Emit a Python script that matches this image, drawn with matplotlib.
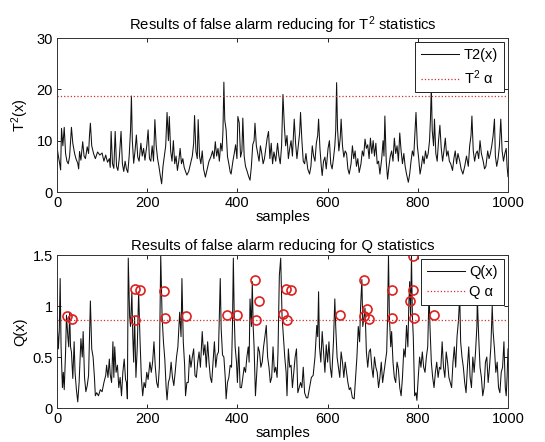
import matplotlib
matplotlib.use("Agg")
import matplotlib.pyplot as plt
from matplotlib.ticker import FuncFormatter

plt.rcParams['font.family'] = ['Liberation Sans', 'DejaVu Sans']
plt.rcParams['mathtext.fontset'] = 'custom'
plt.rcParams['mathtext.rm'] = 'Liberation Sans'
plt.rcParams['mathtext.it'] = 'Liberation Sans'

# ---------------- data ----------------
t2_x = [0,3,6,8,10,13,16,19,22,25,28,32,35,39,42,46,48,50,53,57,60,63,67,70,72,74,77,81,85,90,95,100,104,108,112,116,118,120,123,126,129,132,135,138,142,145,148,151,154,157,160,163,165,167,170,173,176,179,182,186,189,192,195,199,202,205,208,211,214,217,220,223,226,229,232,235,238,241,244,247,249,252,255,258,261,264,267,270,273,276,279,282,285,288,292,296,300,303,305,308,311,313,316,319,322,325,329,333,337,341,345,348,351,354,357,360,363,366,368,370,372,375,378,381,384,386,390,393,396,399,401,404,407,410,412,415,418,421,425,428,431,434,437,439,442,445,448,451,454,457,460,463,466,469,472,475,478,481,485,489,492,495,498,501,504,507,510,513,516,519,522,526,529,532,535,538,540,543,546,549,552,556,560,563,566,569,572,575,578,580,583,586,588,591,594,597,601,604,607,610,613,616,618,620,622,625,628,630,633,636,639,642,645,648,652,655,658,661,664,667,670,674,677,680,683,686,689,692,695,698,701,704,707,710,713,716,720,723,725,727,730,733,736,739,742,745,748,751,754,757,760,763,766,769,772,775,779,782,785,788,791,794,796,799,802,805,808,811,814,817,820,823,826,828,830,832,835,837,840,843,846,849,852,855,858,861,864,867,870,873,877,880,883,886,889,893,896,900,904,908,912,915,918,920,923,926,929,932,935,938,941,945,948,951,955,958,961,964,967,970,972,975,978,981,984,987,990,993,996,998,1000]
t2_y = [8.8,7.0,5.5,4.3,12.4,9.0,12.6,7.5,6.0,5.5,7.0,12.6,9.5,7.5,6.5,5.6,4.5,7.9,6.2,9.8,7.0,6.5,8.8,7.5,11.0,13.4,9.0,7.5,6.5,7.8,7.2,7.6,6.0,7.2,5.8,6.5,4.8,11.8,5.5,4.6,11.8,5.0,4.2,6.5,11.8,5.5,4.0,6.0,4.5,3.8,7.0,12.0,18.7,10.0,5.6,8.0,11.1,6.8,6.0,9.5,7.0,8.5,6.2,9.0,12.1,6.5,6.0,9.0,6.0,14.1,9.0,6.5,5.0,3.2,1.6,5.0,7.0,9.0,15.5,10.0,14.7,8.0,6.0,10.0,5.5,7.0,4.2,6.0,8.5,5.5,6.5,4.8,4.0,3.3,4.0,5.5,7.0,9.5,14.9,8.0,6.5,14.1,7.0,5.5,8.0,4.5,2.9,4.5,6.0,6.8,8.0,6.5,9.8,7.0,8.5,6.0,9.5,8.0,12.0,21.4,14.0,12.1,6.9,5.5,3.9,3.5,6.0,7.5,9.2,6.5,14.7,13.5,6.8,8.0,14.4,7.0,5.0,4.2,3.0,2.3,5.0,9.2,10.0,13.4,9.0,7.5,6.0,9.0,7.5,5.5,6.5,8.5,10.5,11.8,6.5,9.5,5.5,7.8,6.0,9.5,7.0,5.5,9.0,19.0,13.0,9.0,11.0,6.5,8.5,10.0,7.0,14.2,9.5,6.5,9.0,11.5,15.5,10.0,6.0,5.5,7.5,4.5,3.5,5.0,9.0,7.0,6.0,9.5,11.0,14.2,8.5,5.0,3.2,6.0,6.8,4.5,8.5,10.0,5.5,4.5,6.5,9.0,12.0,21.3,12.3,8.0,10.5,14.2,9.0,6.8,8.0,7.5,4.5,3.5,5.5,9.0,6.5,8.0,5.0,6.5,3.8,5.5,8.0,7.0,10.3,8.5,9.2,6.5,10.5,7.5,10.0,7.0,9.5,5.5,6.0,3.5,6.5,10.0,7.0,14.8,6.0,2.5,5.0,7.0,8.0,6.0,10.5,7.5,9.0,6.0,11.5,8.0,5.5,7.5,5.0,3.5,1.9,3.5,6.0,8.0,7.0,12.0,15.5,9.0,6.5,3.5,5.0,7.0,5.5,8.0,6.5,7.5,10.0,14.0,20.5,12.0,9.0,14.2,7.5,6.0,10.0,13.0,8.5,6.0,8.0,10.5,7.0,8.0,6.0,5.5,4.2,6.5,8.0,5.5,7.5,6.0,4.5,3.5,5.0,7.0,5.0,9.0,11.0,14.8,8.0,6.0,7.5,8.0,6.5,10.0,7.5,6.0,4.5,5.0,8.0,6.5,7.5,9.0,11.0,14.2,7.0,5.0,6.5,9.0,14.2,8.0,6.0,7.5,8.5,5.0,3.0]
t2_limit = 18.7

q_x = [0,3,5,7,9,12,14,16,19,21,24,26,28,30,32,35,38,40,43,46,49,53,56,58,61,64,67,70,74,77,80,83,85,88,92,96,100,104,108,110,113,116,118,121,124,126,128,131,134,137,140,143,146,149,152,154,156,158,161,163,166,168,170,172,175,178,181,184,187,190,193,196,199,202,206,209,212,215,218,221,224,227,230,233,236,239,242,244,247,250,253,256,259,262,265,268,272,275,277,280,283,285,288,291,294,297,300,303,306,309,312,315,318,322,325,328,331,334,337,340,343,346,349,352,355,358,360,362,364,367,370,373,375,378,381,384,387,389,391,393,395,398,400,403,406,409,412,415,418,421,424,426,428,431,433,435,437,440,443,446,449,452,455,458,461,464,467,470,473,476,479,482,485,488,490,493,496,499,502,505,508,510,513,516,519,522,525,528,531,534,537,540,543,546,549,553,556,560,564,568,572,576,578,580,582,585,588,591,594,597,600,603,606,609,613,616,618,621,624,627,630,633,636,639,642,645,648,651,655,659,662,665,668,671,673,676,678,681,683,686,689,692,695,698,701,704,707,710,713,716,719,722,725,728,731,733,735,737,740,742,745,748,751,754,757,760,763,766,769,772,775,778,780,782,784,786,788,790,793,796,798,801,804,807,810,813,816,819,822,825,827,830,833,836,839,842,845,848,851,854,857,860,863,866,869,872,875,878,881,884,887,890,893,895,898,901,904,907,910,913,916,919,922,925,928,931,932,935,938,941,944,947,950,953,956,959,962,965,967,970,973,976,979,982,985,988,991,994,996,998,1000]
q_y = [0.88,0.58,0.75,1.27,0.6,0.2,0.35,0.18,0.55,0.91,0.7,0.6,0.94,0.6,0.55,0.29,0.65,0.35,0.18,0.06,0.25,0.68,0.5,0.75,0.3,0.16,0.22,0.32,1.05,0.58,0.5,0.3,0.12,0.15,0.12,0.18,0.16,0.25,0.32,0.42,0.3,0.48,0.33,0.25,0.65,0.3,0.6,0.35,0.42,0.2,0.3,0.12,0.35,0.48,0.28,0.25,0.09,1.47,0.9,0.8,1.14,0.7,0.45,0.9,0.3,0.6,1.14,0.68,0.3,0.12,0.25,0.2,0.35,0.28,0.45,0.35,0.45,0.65,0.4,0.25,0.2,0.4,1.5,0.9,0.65,0.48,0.2,0.08,0.25,0.3,0.45,0.3,0.22,0.35,0.5,0.6,0.94,0.7,1.27,0.65,0.42,0.12,0.25,0.25,0.52,0.4,0.5,0.58,0.32,0.3,0.45,0.55,0.4,0.75,0.52,0.62,0.4,0.65,0.45,0.3,0.25,0.45,0.65,0.4,0.52,0.55,0.9,1.27,0.78,0.52,0.5,0.3,0.09,0.25,0.3,0.42,0.4,0.8,1.47,0.9,0.6,0.45,0.25,0.6,0.2,0.2,0.3,0.4,0.35,0.5,0.6,0.45,1.07,0.8,1.24,0.8,0.6,0.12,0.35,0.6,0.55,0.4,0.45,0.6,0.7,0.81,0.5,0.4,0.25,0.3,0.6,0.35,0.4,0.3,0.55,1.3,1.47,0.9,0.7,0.5,0.35,0.12,0.58,0.4,0.42,0.2,0.35,0.5,0.58,0.15,0.2,0.25,0.2,0.4,0.15,0.1,0.1,0.2,0.3,0.32,0.5,0.81,0.7,1.14,0.6,0.45,0.75,0.55,0.35,0.62,0.45,0.65,0.4,0.3,0.65,1.07,0.8,0.5,0.4,0.3,0.55,0.45,0.3,0.45,0.35,0.25,0.18,0.2,0.1,0.09,0.3,0.5,0.8,0.65,0.98,1.26,0.8,0.9,0.98,0.55,0.4,0.55,0.58,0.4,0.3,0.5,0.4,0.35,0.2,0.3,0.45,0.25,0.35,0.45,0.55,0.9,1.5,0.9,0.6,0.75,0.45,0.3,0.25,0.45,0.38,0.2,0.12,0.3,0.58,0.5,0.81,0.6,1.0,1.24,0.9,1.49,0.9,0.7,0.12,0.15,0.075,0.3,0.5,0.4,0.55,0.4,0.35,0.5,0.6,1.15,0.8,0.45,0.3,0.2,0.35,0.45,0.3,0.4,0.38,0.65,0.4,0.3,0.55,0.45,0.3,0.25,0.2,0.45,0.6,0.4,0.7,0.85,1.1,0.65,0.5,0.4,0.25,0.15,0.4,0.6,0.3,0.2,0.5,0.35,0.55,0.8,1.08,0.7,0.4,0.3,0.12,0.2,0.45,0.5,0.25,0.4,0.6,1.0,0.75,0.58,0.35,0.45,0.2,0.15,0.35,0.4,0.65,0.2,0.12,0.3,0.58]
q_limit = 0.86

alarm_x = [23,33,172,183,173,238,240,285,377,399,440,447,441,502,509,508,519,627,680,681,687,691,742,743,783,790,790,792,836]
alarm_y = [0.905,0.87,1.17,1.16,0.86,1.15,0.88,0.905,0.91,0.91,1.26,1.05,0.86,0.92,0.865,1.17,1.16,0.91,1.26,0.905,0.97,0.87,1.16,0.88,1.05,1.49,1.16,0.88,0.91]

x_ticks = [0, 200, 400, 600, 800, 1000]
t2_yticks = [0, 10, 20, 30]
q_yticks = [0, 0.5, 1, 1.5]

# ---------------- figure ----------------
fig = plt.figure(figsize=(5.45, 4.42), dpi=100)
ax1 = fig.add_axes([0.1046, 0.5656, 0.8275, 0.3484])
ax2 = fig.add_axes([0.1046, 0.0769, 0.8275, 0.3460])

fmt = FuncFormatter(lambda v, p: ('%g' % v))

def style(ax):
    ax.tick_params(direction='in', top=True, right=True, length=3, width=0.6,
                   labelsize=10.5, pad=3)
    for s in ax.spines.values():
        s.set_linewidth(0.7)
        s.set_color('#333333')
    ax.xaxis.set_major_formatter(fmt)
    ax.yaxis.set_major_formatter(fmt)

def legend(ax):
    leg = ax.legend(loc='upper right', fontsize=10.5, handlelength=2.6, frameon=True,
                    fancybox=False, borderaxespad=0.3, borderpad=0.4, labelspacing=0.4,
                    handletextpad=0.3)
    leg.get_frame().set_edgecolor('#222222')
    leg.get_frame().set_linewidth(0.7)
    leg.get_frame().set_alpha(1)
    leg.set_zorder(5)
    return leg

# top panel
ax1.plot(t2_x, t2_y, color='#111111', lw=0.75, label='T2(x)')
ax1.axhline(t2_limit, color='#d03030', lw=0.9, ls=':', label=r'T$^2$ α')
ax1.set_xlim(0, 1000)
ax1.set_ylim(0, 30)
ax1.set_xticks(x_ticks)
ax1.set_yticks(t2_yticks)
ax1.set_xlabel('samples', fontsize=10.5, labelpad=0)
ax1.set_ylabel(r'T$^2$(x)', fontsize=10.5, labelpad=4)
ax1.set_title(r'Results of false alarm reducing for T$^2$ statistics', fontsize=10.7, pad=6)
style(ax1)
legend(ax1)

# bottom panel
ax2.plot(q_x, q_y, color='#111111', lw=0.75, label='Q(x)')
ax2.axhline(q_limit, color='#d03030', lw=0.9, ls=':', label='Q α')
ax2.plot(alarm_x, alarm_y, ls='none', marker='o', markersize=6.5, mfc='none',
         mec='#dd2020', mew=1.2)
ax2.set_xlim(0, 1000)
ax2.set_ylim(0, 1.5)
ax2.set_xticks(x_ticks)
ax2.set_yticks(q_yticks)
ax2.set_xlabel('samples', fontsize=10.5, labelpad=0)
ax2.set_ylabel('Q(x)', fontsize=10.5, labelpad=4)
ax2.set_title('Results of false alarm reducing for Q statistics', fontsize=10.7, pad=4)
style(ax2)
legend(ax2)

fig.savefig('out.png', dpi=100, facecolor='white')
